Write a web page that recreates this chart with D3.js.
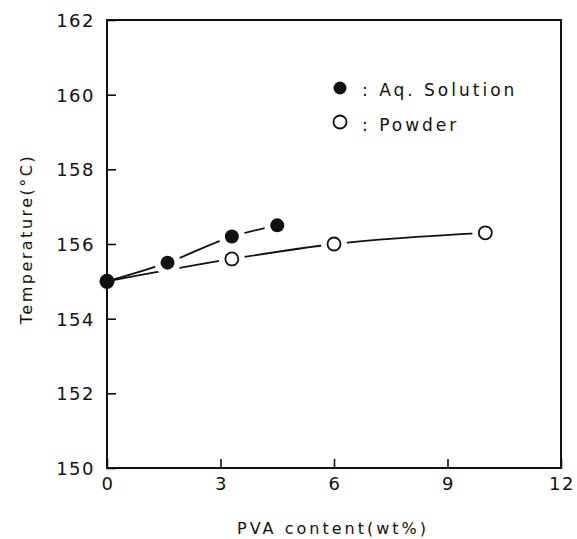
<!doctype html>
<html>
  <head>
    <meta charset="utf-8">
    <script src="https://cdn.jsdelivr.net/npm/d3@7"></script>
    <style>
      body { margin: 0; background: #fff; }
      text { font-family: "DejaVu Sans", sans-serif; fill: #111; }
    </style>
  </head>
  <body>
    <div id="chart"></div>
    <script>
      const xTicks = [0, 3, 6, 9, 12];
      const yTicks = [150, 152, 154, 156, 158, 160, 162];

      const aqX = [0, 1.6, 3.3, 4.5];
      const aqY = [155.0, 155.5, 156.2, 156.5];
      const powderX = [0, 3.3, 6, 10];
      const powderY = [155.0, 155.6, 156.0, 156.3];

      const legendLabels = [": Aq. Solution", ": Powder"];

      (function() {
        const width = 577,
          height = 539;
        const left = 107, right = 561, top = 20, bottom = 468;

        const x = d3.scaleLinear().domain([0, 12]).range([left, right]);
        const y = d3.scaleLinear().domain([150, 162]).range([bottom, top]);

        const svg = d3.select('#chart').append('svg')
          .attr('width', width)
          .attr('height', height);

        // frame
        svg.append('rect')
          .attr('x', left).attr('y', top)
          .attr('width', right - left).attr('height', bottom - top)
          .attr('fill', 'none').attr('stroke', '#111').attr('stroke-width', 2);

        // inward ticks
        svg.append('g')
          .attr('transform', 'translate(0,' + bottom + ')')
          .call(d3.axisTop(x).tickValues(xTicks).tickSize(9).tickFormat(''))
          .call(g => g.select('.domain').remove())
          .call(g => g.selectAll('line').attr('stroke', '#111').attr('stroke-width', 1.6));

        svg.append('g')
          .attr('transform', 'translate(' + left + ',0)')
          .call(d3.axisRight(y).tickValues(yTicks).tickSize(9).tickFormat(''))
          .call(g => g.select('.domain').remove())
          .call(g => g.selectAll('line').attr('stroke', '#111').attr('stroke-width', 1.6));

        // tick labels
        svg.append('g').selectAll('text')
          .data(xTicks)
          .join('text')
            .attr('x', d => x(d) + 1)
            .attr('y', 490)
            .attr('text-anchor', 'middle')
            .style('font-size', '18px')
            .style('letter-spacing', '1.5px')
            .text(d => d);

        svg.append('g').selectAll('text')
          .data(yTicks)
          .join('text')
            .attr('x', 95)
            .attr('y', d => y(d) + 7)
            .attr('text-anchor', 'end')
            .style('font-size', '18px')
            .style('letter-spacing', '1.5px')
            .text(d => d);

        // axis titles
        svg.append('text')
          .attr('x', 333)
          .attr('y', 534)
          .attr('text-anchor', 'middle')
          .style('font-size', '16px')
          .style('letter-spacing', '3px')
          .text('PVA content(wt%)');

        svg.append('text')
          .attr('transform', 'translate(32,239) rotate(-90)')
          .attr('text-anchor', 'middle')
          .style('font-size', '16px')
          .style('letter-spacing', '2.5px')
          .text('Temperature(°C)');

        const line = d3.line()
          .x(d => x(d[0]))
          .y(d => y(d[1]))
          .curve(d3.curveMonotoneX);

        const aq = aqX.map((v, i) => [v, aqY[i]]);
        const powder = powderX.map((v, i) => [v, powderY[i]]);

        svg.append('path')
          .datum(powder)
          .attr('d', line)
          .attr('fill', 'none').attr('stroke', '#111').attr('stroke-width', 1.8);

        svg.append('path')
          .datum(aq)
          .attr('d', line)
          .attr('fill', 'none').attr('stroke', '#111').attr('stroke-width', 1.8);

        // white halos to break the lines near markers
        svg.append('g').selectAll('circle')
          .data(powder.slice(1).concat(aq.slice(1)))
          .join('circle')
            .attr('cx', d => x(d[0]))
            .attr('cy', d => y(d[1]))
            .attr('r', 13)
            .attr('fill', '#fff');

        svg.append('g').selectAll('circle')
          .data(powder.slice(1))
          .join('circle')
            .attr('cx', d => x(d[0]))
            .attr('cy', d => y(d[1]))
            .attr('r', 6.5)
            .attr('fill', '#fff')
            .attr('stroke', '#111')
            .attr('stroke-width', 1.8);

        svg.append('g').selectAll('circle')
          .data(aq)
          .join('circle')
            .attr('cx', d => x(d[0]))
            .attr('cy', d => y(d[1]))
            .attr('r', (d, i) => i === 0 ? 7.5 : 7)
            .attr('fill', '#111');

        // legend
        const legend = svg.append('g');
        legend.append('circle')
          .attr('cx', 340).attr('cy', 88).attr('r', 6.5).attr('fill', '#111');
        legend.append('circle')
          .attr('cx', 340).attr('cy', 122).attr('r', 6.5)
          .attr('fill', '#fff').attr('stroke', '#111').attr('stroke-width', 1.8);
        legend.selectAll('text')
          .data(legendLabels)
          .join('text')
            .attr('x', 362)
            .attr('y', (d, i) => 96 + i * 35)
            .style('font-size', '17px')
            .style('letter-spacing', '3px')
            .text(d => d);
      })();
    </script>
  </body>
</html>
